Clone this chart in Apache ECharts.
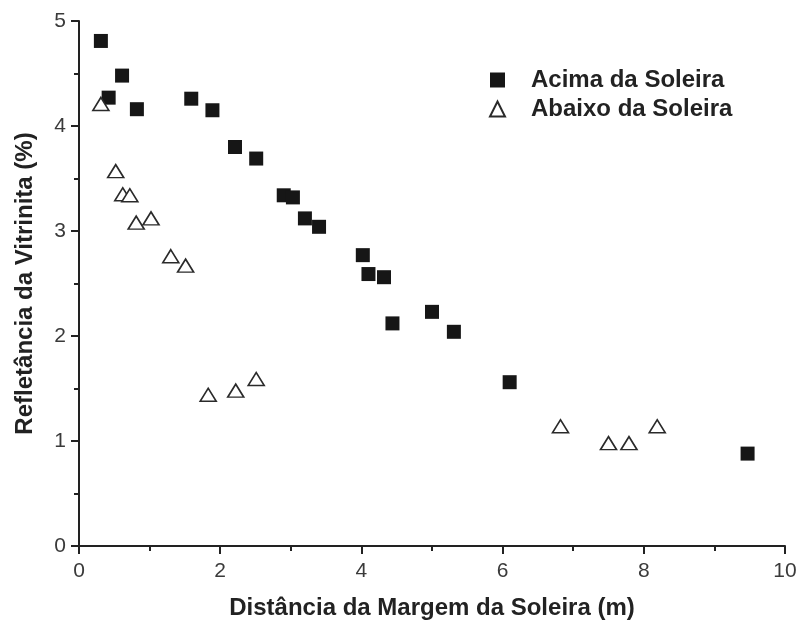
<!DOCTYPE html>
<html>
<head>
<meta charset="utf-8">
<script src="https://cdn.jsdelivr.net/npm/echarts@6/dist/echarts.min.js"></script>
<style>
  html, body { margin: 0; padding: 0; background: #ffffff; }
  #chart { width: 800px; height: 621px; }
</style>
</head>
<body>
<div id="chart"></div>
<script>
// Vitrinite reflectance vs. distance from the sill margin
const acimaX = [0.31, 0.42, 0.61, 0.82, 1.59, 1.89, 2.21, 2.51, 2.90, 3.03, 3.20, 3.40, 4.02, 4.10, 4.32, 4.44, 5.00, 5.31, 6.10, 9.47];
const acimaY = [4.81, 4.27, 4.48, 4.16, 4.26, 4.15, 3.80, 3.69, 3.34, 3.32, 3.12, 3.04, 2.77, 2.59, 2.56, 2.12, 2.23, 2.04, 1.56, 0.88];

const abaixoX = [0.31, 0.52, 0.62, 0.72, 0.81, 1.02, 1.30, 1.51, 1.83, 2.22, 2.51, 6.82, 7.50, 7.79, 8.19];
const abaixoY = [4.21, 3.57, 3.35, 3.34, 3.08, 3.12, 2.76, 2.67, 1.44, 1.48, 1.59, 1.14, 0.98, 0.98, 1.14];

const xTicks = [0, 2, 4, 6, 8, 10];
const yTicks = [0, 1, 2, 3, 4, 5];

const pairs = (xs, ys) => xs.map((x, i) => [x, ys[i]]);

const font = 'Liberation Sans, Arial, sans-serif';
const axisColor = '#222';

const chart = echarts.init(document.getElementById('chart'), null, { renderer: 'canvas' });

chart.setOption({
  backgroundColor: '#ffffff',
  animation: false,
  grid: { left: 79, right: 15, top: 21, bottom: 75, containLabel: false, outerBoundsMode: 'none' },
  legend: {
    orient: 'vertical',
    left: 484,
    top: 63,
    itemWidth: 15,
    itemHeight: 15,
    itemGap: 5,
    textStyle: { fontFamily: font, fontSize: 24, fontWeight: 'bold', color: '#222', padding: [0, 0, 0, 21] },
    data: [
      { name: 'Acima da Soleira', icon: 'rect' },
      { name: 'Abaixo da Soleira', icon: 'triangle' }
    ]
  },
  xAxis: {
    type: 'value',
    min: xTicks[0],
    max: xTicks[xTicks.length - 1],
    interval: 2,
    name: 'Distância da Margem da Soleira (m)',
    nameLocation: 'middle',
    nameGap: 50,
    nameTextStyle: { fontFamily: font, fontSize: 24, fontWeight: 'bold', color: '#222' },
    axisLine: { show: true, lineStyle: { color: axisColor, width: 2 } },
    axisTick: { show: true, inside: false, length: 8, lineStyle: { color: axisColor, width: 2 } },
    minorTick: { show: true, splitNumber: 2, length: 5, lineStyle: { color: axisColor, width: 2 } },
    axisLabel: { fontFamily: font, fontSize: 21, color: '#3a3a3a', margin: 15 },
    splitLine: { show: false }
  },
  yAxis: {
    type: 'value',
    min: yTicks[0],
    max: yTicks[yTicks.length - 1],
    interval: 1,
    name: 'Refletância da Vitrinita (%)',
    nameLocation: 'middle',
    nameGap: 42,
    nameTextStyle: { fontFamily: font, fontSize: 24, fontWeight: 'bold', color: '#222' },
    axisLine: { show: true, lineStyle: { color: axisColor, width: 2 } },
    axisTick: { show: true, inside: false, length: 8, lineStyle: { color: axisColor, width: 2 } },
    minorTick: { show: true, splitNumber: 2, length: 5, lineStyle: { color: axisColor, width: 2 } },
    axisLabel: { fontFamily: font, fontSize: 21, color: '#3a3a3a', margin: 13 },
    splitLine: { show: false }
  },
  series: [
    {
      name: 'Acima da Soleira',
      type: 'scatter',
      symbol: 'rect',
      symbolSize: 14,
      itemStyle: { color: '#161616', opacity: 1 },
      data: pairs(acimaX, acimaY)
    },
    {
      name: 'Abaixo da Soleira',
      type: 'scatter',
      symbol: 'triangle',
      symbolSize: [16, 13],
      itemStyle: { color: '#ffffff', borderColor: '#2a2a2a', borderWidth: 1.6, opacity: 1 },
      data: pairs(abaixoX, abaixoY)
    }
  ]
});
</script>
</body>
</html>
